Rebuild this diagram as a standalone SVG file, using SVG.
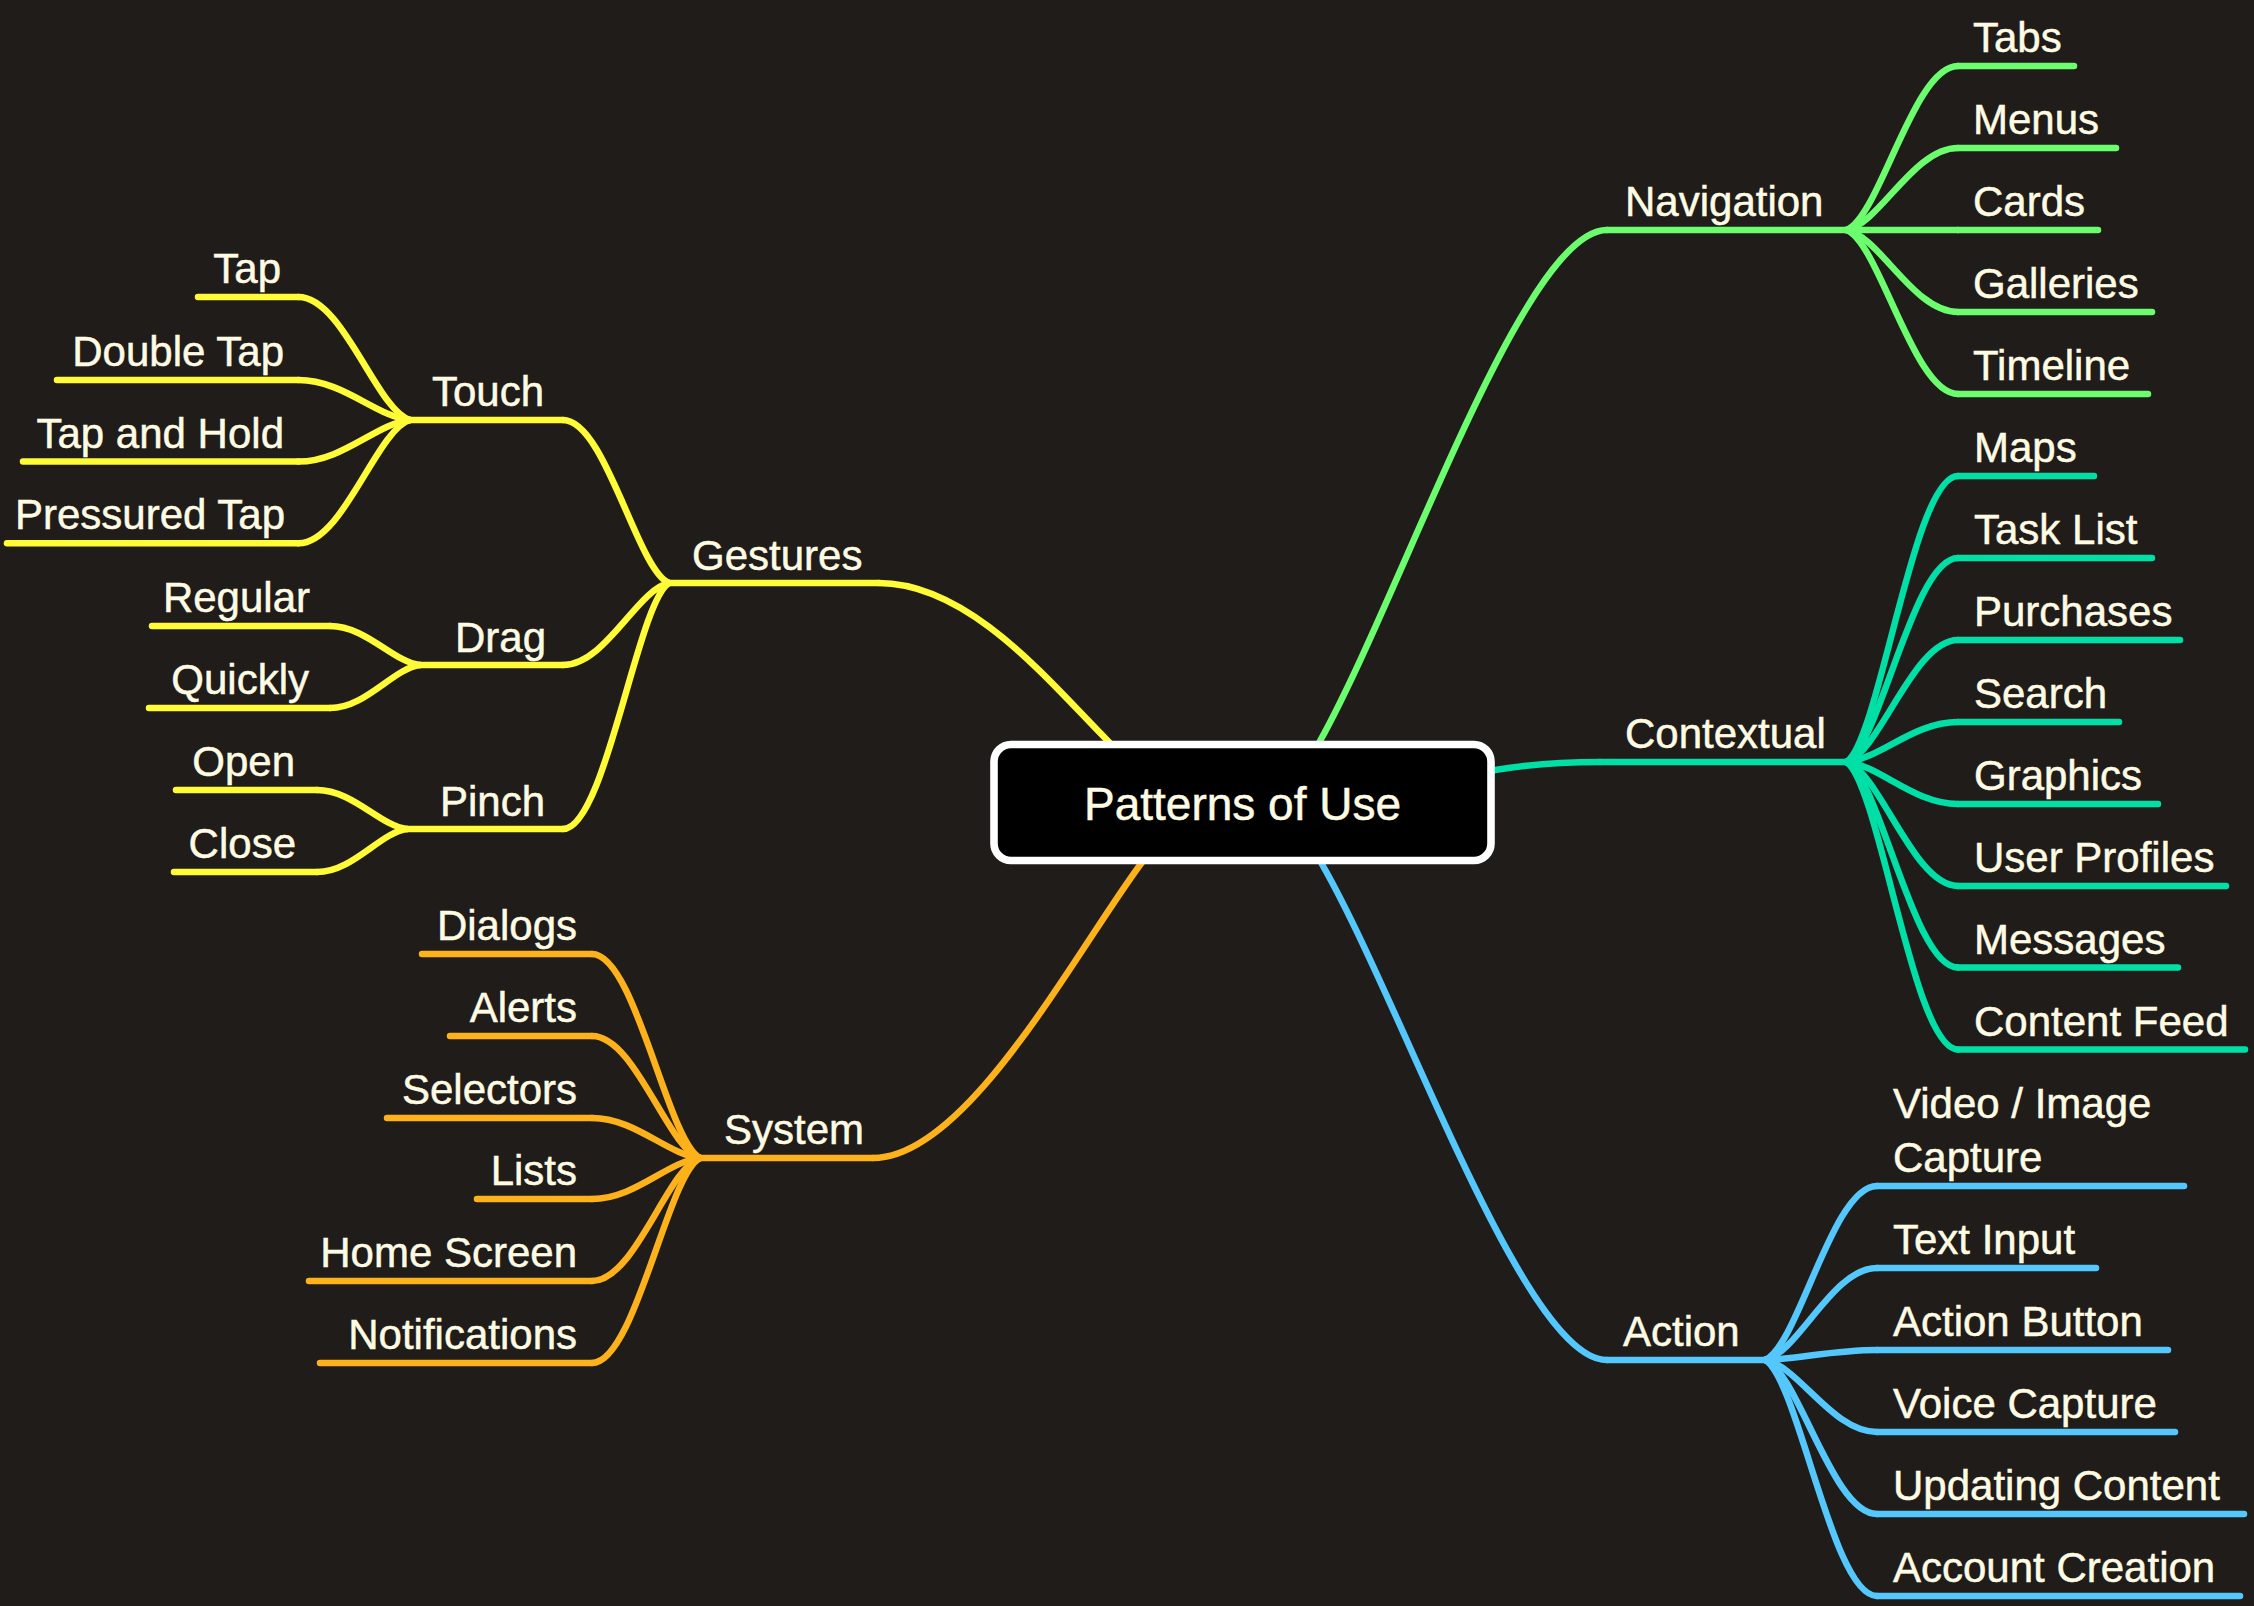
<svg xmlns="http://www.w3.org/2000/svg" width="2254" height="1606" viewBox="0 0 2254 1606">
<style>
.t{font-family:"Liberation Sans",Arial,sans-serif;font-size:42px;fill:#FDFBE3;stroke:#FDFBE3;stroke-width:0.5}
.e{text-anchor:end}
.ln{fill:none;stroke-width:6.5;stroke-linecap:round;stroke-linejoin:round}
.nav{stroke:#6BFD6E}
.ctx{stroke:#00DFA6}
.act{stroke:#54C7FD}
.ges{stroke:#FFFB37}
.sys{stroke:#FDB11B}
</style>
<rect width="2254" height="1606" fill="#201C19"/>
<g id="connectors">
  <path class="ln nav" d="M1315 750 L1320 741 C1403.2 591.3 1523.8 230 1607 230"/>
  <path class="ln ctx" d="M1488 771 L1495 770 C1530 764 1560 762 1600 762"/>
  <path class="ln act" d="M1318 857 L1323 866 C1405.4 1010.7 1524.6 1360 1607 1360"/>
  <path class="ln ges" d="M1114 747 L1107 740 C1049.75 682.3 969.6 583 878.6 583"/>
  <path class="ln sys" d="M1146 857 L1140 865 C1073.25 955.7 966.5 1158 873 1158"/>
  <path class="ln nav" d="M1846.5 230 C1879.95 216.88 1913.4 66 1958 66"/>
  <path class="ln nav" d="M1846.5 230 C1879.95 223.44 1913.4 148 1958 148"/>
  <path class="ln nav" d="M1846.5 230 L1958 230"/>
  <path class="ln nav" d="M1846.5 230 C1879.95 236.56 1913.4 312 1958 312"/>
  <path class="ln nav" d="M1846.5 230 C1879.95 243.12 1913.4 394 1958 394"/>
  <path class="ln ctx" d="M1846.5 762 C1879.95 739.12 1913.4 476 1958 476"/>
  <path class="ln ctx" d="M1846.5 762 C1879.95 745.68 1913.4 558 1958 558"/>
  <path class="ln ctx" d="M1846.5 762 C1879.95 752.24 1913.4 640 1958 640"/>
  <path class="ln ctx" d="M1846.5 762 C1879.95 758.8 1913.4 722 1958 722"/>
  <path class="ln ctx" d="M1846.5 762 C1879.95 765.36 1913.4 804 1958 804"/>
  <path class="ln ctx" d="M1846.5 762 C1879.95 771.92 1913.4 886 1958 886"/>
  <path class="ln ctx" d="M1846.5 762 C1879.95 778.44 1913.4 967.5 1958 967.5"/>
  <path class="ln ctx" d="M1846.5 762 C1879.95 785 1913.4 1049.5 1958 1049.5"/>
  <path class="ln act" d="M1765 1360 C1798.6 1346.08 1832.2 1186 1877 1186"/>
  <path class="ln act" d="M1765 1360 C1798.6 1352.64 1832.2 1268 1877 1268"/>
  <path class="ln act" d="M1765 1360 C1798.6 1359.2 1832.2 1350 1877 1350"/>
  <path class="ln act" d="M1765 1360 C1798.6 1365.76 1832.2 1432 1877 1432"/>
  <path class="ln act" d="M1765 1360 C1798.6 1372.32 1832.2 1514 1877 1514"/>
  <path class="ln act" d="M1765 1360 C1798.6 1378.88 1832.2 1596 1877 1596"/>
  <path class="ln ges" d="M669 583 C637.2 569.96 605.4 420 563 420"/>
  <path class="ln ges" d="M669 583 C637.2 589.56 605.4 665 563 665"/>
  <path class="ln ges" d="M669 583 C637.2 602.68 605.4 829 563 829"/>
  <path class="ln ges" d="M410 420 C376.55 410.16 343.1 297 298.5 297"/>
  <path class="ln ges" d="M410 420 C376.55 416.8 343.1 380 298.5 380"/>
  <path class="ln ges" d="M410 420 C376.55 423.33 343.1 461.6 298.5 461.6"/>
  <path class="ln ges" d="M410 420 C376.55 429.86 343.1 543.3 298.5 543.3"/>
  <path class="ln ges" d="M420 665 C393 661.88 366 626 330 626"/>
  <path class="ln ges" d="M420 665 C393 668.44 366 708 330 708"/>
  <path class="ln ges" d="M407 829 C380 825.88 353 790 317 790"/>
  <path class="ln ges" d="M407 829 C380 832.44 353 872 317 872"/>
  <path class="ln sys" d="M700 1158 C667.6 1141.68 635.2 954 592 954"/>
  <path class="ln sys" d="M700 1158 C667.6 1148.24 635.2 1036 592 1036"/>
  <path class="ln sys" d="M700 1158 C667.6 1154.8 635.2 1118 592 1118"/>
  <path class="ln sys" d="M700 1158 C667.6 1161.28 635.2 1199 592 1199"/>
  <path class="ln sys" d="M700 1158 C667.6 1167.84 635.2 1281 592 1281"/>
  <path class="ln sys" d="M700 1158 C667.6 1174.4 635.2 1363 592 1363"/>
</g>
<g id="center">
  <rect x="994" y="744.5" width="497" height="116" rx="17" fill="#000" stroke="#FFFFFF" stroke-width="7.6"/>
  <text class="t" x="1242.5" y="820" text-anchor="middle" style="font-size:46px">Patterns of Use</text>
</g>
<g id="navigation"><path class="ln nav" d="M1607 230 H1846.5"/><text class="t" x="1625" y="216">Navigation</text></g>
<g id="tabs"><path class="ln nav" d="M1958 66 H2074"/><text class="t" x="1973" y="52">Tabs</text></g>
<g id="menus"><path class="ln nav" d="M1958 148 H2116"/><text class="t" x="1973" y="134">Menus</text></g>
<g id="cards"><path class="ln nav" d="M1958 230 H2098"/><text class="t" x="1973" y="216">Cards</text></g>
<g id="galleries"><path class="ln nav" d="M1958 312 H2152"/><text class="t" x="1973" y="298">Galleries</text></g>
<g id="timeline"><path class="ln nav" d="M1958 394 H2148"/><text class="t" x="1973" y="380">Timeline</text></g>
<g id="contextual"><path class="ln ctx" d="M1600 762 H1846.5"/><text class="t" x="1625" y="748">Contextual</text></g>
<g id="maps"><path class="ln ctx" d="M1958 476 H2094"/><text class="t" x="1974" y="462">Maps</text></g>
<g id="task-list"><path class="ln ctx" d="M1958 558 H2152"/><text class="t" x="1974" y="544">Task List</text></g>
<g id="purchases"><path class="ln ctx" d="M1958 640 H2180"/><text class="t" x="1974" y="626">Purchases</text></g>
<g id="search"><path class="ln ctx" d="M1958 722 H2119"/><text class="t" x="1974" y="708">Search</text></g>
<g id="graphics"><path class="ln ctx" d="M1958 804 H2158"/><text class="t" x="1974" y="790">Graphics</text></g>
<g id="user-profiles"><path class="ln ctx" d="M1958 886 H2226"/><text class="t" x="1974" y="872">User Profiles</text></g>
<g id="messages"><path class="ln ctx" d="M1958 967.5 H2178"/><text class="t" x="1974" y="953.5">Messages</text></g>
<g id="content-feed"><path class="ln ctx" d="M1958 1049.5 H2245"/><text class="t" x="1974" y="1035.5">Content Feed</text></g>
<g id="action"><path class="ln act" d="M1607 1360 H1765"/><text class="t" x="1623" y="1346">Action</text></g>
<g id="video-image-capture"><path class="ln act" d="M1877 1186 H2184"/><text class="t" x="1893" y="1118">Video / Image<tspan x="1893" y="1172">Capture</tspan></text></g>
<g id="text-input"><path class="ln act" d="M1877 1268 H2096"/><text class="t" x="1893" y="1254">Text Input</text></g>
<g id="action-button"><path class="ln act" d="M1877 1350 H2168"/><text class="t" x="1893" y="1336">Action Button</text></g>
<g id="voice-capture"><path class="ln act" d="M1877 1432 H2175"/><text class="t" x="1893" y="1418">Voice Capture</text></g>
<g id="updating-content"><path class="ln act" d="M1877 1514 H2244"/><text class="t" x="1893" y="1500">Updating Content</text></g>
<g id="account-creation"><path class="ln act" d="M1877 1596 H2240"/><text class="t" x="1893" y="1582">Account Creation</text></g>
<g id="gestures"><path class="ln ges" d="M878.6 583 H669"/><text class="t" x="692" y="570">Gestures</text></g>
<g id="touch"><path class="ln ges" d="M563 420 H410"/><text class="t e" x="544" y="406">Touch</text></g>
<g id="tap"><path class="ln ges" d="M298.5 297 H198"/><text class="t e" x="281" y="283">Tap</text></g>
<g id="double-tap"><path class="ln ges" d="M298.5 380 H57"/><text class="t e" x="284" y="366">Double Tap</text></g>
<g id="tap-and-hold"><path class="ln ges" d="M298.5 461.6 H23"/><text class="t e" x="284" y="447.6">Tap and Hold</text></g>
<g id="pressured-tap"><path class="ln ges" d="M298.5 543.3 H7"/><text class="t e" x="285" y="529.3">Pressured Tap</text></g>
<g id="drag"><path class="ln ges" d="M563 665 H420"/><text class="t e" x="546" y="652">Drag</text></g>
<g id="regular"><path class="ln ges" d="M330 626 H152"/><text class="t e" x="310" y="612">Regular</text></g>
<g id="quickly"><path class="ln ges" d="M330 708 H149"/><text class="t e" x="309" y="694">Quickly</text></g>
<g id="pinch"><path class="ln ges" d="M563 829 H407"/><text class="t e" x="545" y="816">Pinch</text></g>
<g id="open"><path class="ln ges" d="M317 790 H176"/><text class="t e" x="295" y="776">Open</text></g>
<g id="close"><path class="ln ges" d="M317 872 H174"/><text class="t e" x="296" y="858">Close</text></g>
<g id="system"><path class="ln sys" d="M873 1158 H700"/><text class="t" x="724" y="1144">System</text></g>
<g id="dialogs"><path class="ln sys" d="M592 954 H422"/><text class="t e" x="577" y="940">Dialogs</text></g>
<g id="alerts"><path class="ln sys" d="M592 1036 H450"/><text class="t e" x="577" y="1022">Alerts</text></g>
<g id="selectors"><path class="ln sys" d="M592 1118 H387"/><text class="t e" x="577" y="1104">Selectors</text></g>
<g id="lists"><path class="ln sys" d="M592 1199 H477"/><text class="t e" x="577" y="1185">Lists</text></g>
<g id="home-screen"><path class="ln sys" d="M592 1281 H309"/><text class="t e" x="577" y="1267">Home Screen</text></g>
<g id="notifications"><path class="ln sys" d="M592 1363 H320"/><text class="t e" x="577" y="1349">Notifications</text></g>
</svg>
